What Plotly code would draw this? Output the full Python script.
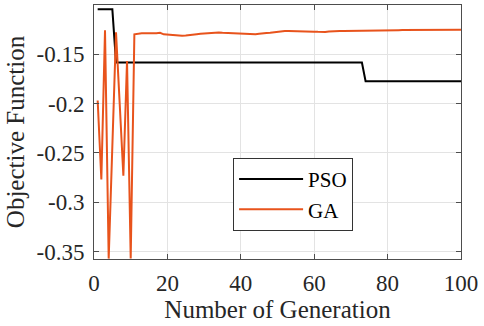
import plotly.graph_objects as go

generations = list(range(1, 101))

pso_values = [-0.1047] * 5 + [-0.1585] * 68 + [-0.1775] * 27

ga_values = [
    -0.197, -0.277, -0.126, -0.357, -0.243, -0.128, -0.200, -0.273, -0.157, -0.357,
    -0.1300, -0.1292, -0.1290, -0.1290, -0.1292, -0.1290, -0.1288, -0.1285, -0.1300, -0.1303,
    -0.1305, -0.1310, -0.1315, -0.1315, -0.1312, -0.1305, -0.1300, -0.1298, -0.1293, -0.1290,
    -0.1287, -0.1283, -0.1282, -0.1282, -0.1285, -0.1287, -0.1287, -0.1287, -0.1290, -0.1292,
    -0.1295, -0.1298, -0.1300, -0.1300, -0.1295, -0.1288, -0.1287, -0.1285, -0.1280, -0.1270,
    -0.1268, -0.1267, -0.1267, -0.1267, -0.1267, -0.1268, -0.1270, -0.1270, -0.1272, -0.1273,
    -0.1275, -0.1277, -0.1277, -0.1272, -0.1268, -0.1266, -0.1266, -0.1265, -0.1265, -0.1264,
    -0.1264, -0.1263, -0.1263, -0.1262, -0.1262, -0.1261, -0.1261, -0.1260, -0.1260, -0.1259,
    -0.1259, -0.1258, -0.1258, -0.1257, -0.1257, -0.1257, -0.1256, -0.1256, -0.1256, -0.1255,
    -0.1255, -0.1255, -0.1254, -0.1254, -0.1254, -0.1254, -0.1253, -0.1253, -0.1253, -0.1253,
]

x_ticks = [0, 20, 40, 60, 80, 100]
y_ticks = [-0.35, -0.3, -0.25, -0.2, -0.15]
y_tick_labels = ["-0.35", "-0.3", "-0.25", "-0.2", "-0.15"]

font_family = "Liberation Serif, Times New Roman, serif"

fig = go.Figure()
fig.add_trace(go.Scatter(x=generations, y=pso_values, mode="lines", name="PSO",
                         line=dict(color="#000000", width=2)))
fig.add_trace(go.Scatter(x=generations, y=ga_values, mode="lines", name="GA",
                         line=dict(color="#E8531C", width=2)))

axis_common = dict(
    showline=True, linecolor="#4d4d4d", linewidth=1, mirror="ticks",
    ticks="inside", ticklen=5, tickcolor="#4d4d4d",
    showgrid=True, gridcolor="#e3e3e3", gridwidth=1, zeroline=False,
    tickfont=dict(family=font_family, size=23, color="#262626"),
    automargin=False,
)

fig.update_layout(
    width=484, height=326,
    margin=dict(l=94, r=23, t=5, b=67),
    paper_bgcolor="white", plot_bgcolor="white",
    font=dict(family=font_family, color="#262626"),
    xaxis=dict(range=[0, 100], tickvals=x_ticks, ticklabelstandoff=3,
               title=dict(text="Number of Generation", font=dict(size=25), standoff=4),
               **axis_common),
    yaxis=dict(range=[-0.3574, -0.1003], tickvals=y_ticks, ticktext=y_tick_labels,
               ticklabelstandoff=4,
               title=dict(text="Objective Function", font=dict(size=25), standoff=4),
               **axis_common),
    legend=dict(x=0.379, y=0.398, xanchor="left", yanchor="top",
                bgcolor="white", bordercolor="#333333", borderwidth=1,
                font=dict(family=font_family, size=21, color="#000000"),
                itemwidth=64, tracegroupgap=0),
    showlegend=True,
)

fig.write_html("out.html", config={"displayModeBar": False},
               post_script="document.body.style.margin='0';")
